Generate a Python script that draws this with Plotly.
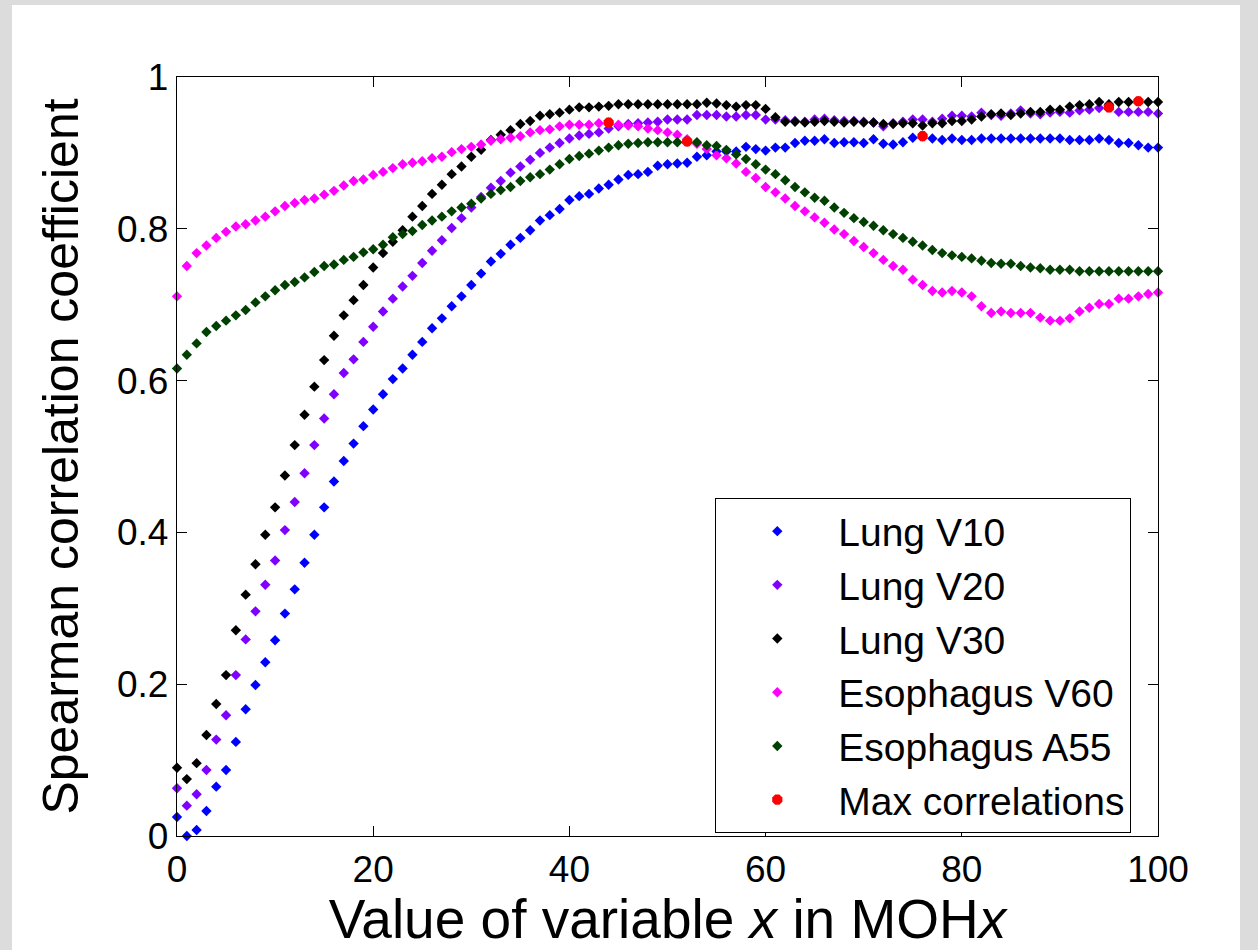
import numpy as np
import plotly.graph_objects as go

x_vals = list(range(0, 101))

lung_v10 = [0.025, 0.000, 0.008, 0.033, 0.065, 0.087, 0.124, 0.167, 0.199, 0.229,
            0.258, 0.293, 0.325, 0.360, 0.397, 0.433, 0.467, 0.494, 0.517, 0.540,
            0.562, 0.582, 0.602, 0.616, 0.634, 0.651, 0.669, 0.682, 0.698, 0.711,
            0.726, 0.741, 0.757, 0.767, 0.779, 0.788, 0.798, 0.811, 0.818, 0.826,
            0.838, 0.843, 0.846, 0.853, 0.858, 0.865, 0.871, 0.872, 0.875, 0.883,
            0.885, 0.886, 0.887, 0.895, 0.897, 0.902, 0.902, 0.902, 0.908, 0.905,
            0.903, 0.907, 0.907, 0.913, 0.916, 0.916, 0.918, 0.913, 0.914, 0.914,
            0.913, 0.918, 0.912, 0.911, 0.914, 0.920, 0.922, 0.919, 0.917, 0.919,
            0.917, 0.917, 0.919, 0.919, 0.919, 0.919, 0.919, 0.919, 0.919, 0.919,
            0.919, 0.917, 0.917, 0.917, 0.919, 0.917, 0.913, 0.913, 0.910, 0.907,
            0.907]

lung_v20 = [0.063, 0.040, 0.055, 0.087, 0.127, 0.159, 0.212, 0.259, 0.296, 0.331,
            0.363, 0.403, 0.440, 0.478, 0.515, 0.550, 0.582, 0.610, 0.628, 0.651,
            0.671, 0.691, 0.708, 0.724, 0.738, 0.755, 0.771, 0.785, 0.801, 0.814,
            0.828, 0.842, 0.854, 0.863, 0.874, 0.882, 0.891, 0.900, 0.907, 0.913,
            0.919, 0.923, 0.925, 0.927, 0.932, 0.935, 0.938, 0.939, 0.940, 0.941,
            0.944, 0.944, 0.944, 0.950, 0.950, 0.950, 0.948, 0.948, 0.950, 0.950,
            0.944, 0.944, 0.943, 0.942, 0.941, 0.944, 0.945, 0.943, 0.942, 0.942,
            0.941, 0.940, 0.935, 0.939, 0.941, 0.944, 0.944, 0.941, 0.945, 0.949,
            0.949, 0.948, 0.953, 0.950, 0.949, 0.952, 0.956, 0.952, 0.951, 0.953,
            0.954, 0.953, 0.956, 0.957, 0.959, 0.960, 0.954, 0.954, 0.954, 0.954,
            0.952]

lung_v30 = [0.090, 0.075, 0.096, 0.133, 0.174, 0.212, 0.271, 0.318, 0.358, 0.397,
            0.433, 0.475, 0.515, 0.555, 0.592, 0.627, 0.659, 0.686, 0.706, 0.726,
            0.749, 0.768, 0.783, 0.798, 0.816, 0.830, 0.846, 0.858, 0.872, 0.882,
            0.895, 0.904, 0.917, 0.924, 0.930, 0.938, 0.942, 0.949, 0.951, 0.953,
            0.957, 0.960, 0.960, 0.961, 0.962, 0.964, 0.964, 0.964, 0.964, 0.964,
            0.964, 0.964, 0.964, 0.964, 0.966, 0.965, 0.963, 0.961, 0.963, 0.963,
            0.958, 0.947, 0.941, 0.941, 0.940, 0.941, 0.942, 0.941, 0.940, 0.941,
            0.940, 0.940, 0.938, 0.938, 0.939, 0.939, 0.936, 0.939, 0.939, 0.942,
            0.942, 0.944, 0.948, 0.951, 0.952, 0.950, 0.952, 0.954, 0.954, 0.957,
            0.957, 0.961, 0.963, 0.964, 0.967, 0.964, 0.967, 0.967, 0.968, 0.967,
            0.967]

esophagus_v60 = [0.711, 0.751, 0.768, 0.778, 0.788, 0.796, 0.803, 0.806, 0.811, 0.816,
                 0.823, 0.830, 0.834, 0.838, 0.840, 0.845, 0.850, 0.857, 0.863, 0.865,
                 0.871, 0.875, 0.880, 0.885, 0.887, 0.889, 0.893, 0.895, 0.901, 0.905,
                 0.908, 0.911, 0.916, 0.918, 0.920, 0.922, 0.927, 0.930, 0.931, 0.935,
                 0.937, 0.937, 0.937, 0.939, 0.940, 0.937, 0.936, 0.935, 0.932, 0.930,
                 0.927, 0.924, 0.918, 0.912, 0.905, 0.897, 0.893, 0.886, 0.875, 0.867,
                 0.855, 0.848, 0.840, 0.830, 0.823, 0.815, 0.808, 0.799, 0.793, 0.784,
                 0.776, 0.768, 0.759, 0.751, 0.746, 0.733, 0.726, 0.718, 0.716, 0.718,
                 0.716, 0.711, 0.698, 0.689, 0.691, 0.689, 0.689, 0.689, 0.683, 0.679,
                 0.679, 0.682, 0.691, 0.696, 0.701, 0.701, 0.708, 0.708, 0.711, 0.714,
                 0.716]

esophagus_a55 = [0.616, 0.634, 0.649, 0.664, 0.672, 0.679, 0.686, 0.693, 0.703, 0.711,
                 0.719, 0.726, 0.730, 0.736, 0.743, 0.751, 0.753, 0.759, 0.763, 0.769,
                 0.773, 0.779, 0.789, 0.793, 0.797, 0.805, 0.811, 0.816, 0.823, 0.828,
                 0.833, 0.840, 0.846, 0.851, 0.855, 0.863, 0.868, 0.872, 0.878, 0.885,
                 0.892, 0.896, 0.899, 0.903, 0.907, 0.910, 0.912, 0.913, 0.914, 0.914,
                 0.914, 0.914, 0.915, 0.914, 0.910, 0.909, 0.904, 0.898, 0.892, 0.885,
                 0.878, 0.872, 0.864, 0.855, 0.848, 0.841, 0.837, 0.828, 0.821, 0.814,
                 0.809, 0.804, 0.798, 0.793, 0.788, 0.783, 0.778, 0.772, 0.768, 0.765,
                 0.763, 0.761, 0.758, 0.755, 0.754, 0.754, 0.751, 0.749, 0.748, 0.746,
                 0.746, 0.746, 0.744, 0.744, 0.744, 0.744, 0.744, 0.744, 0.744, 0.744,
                 0.744]

series_names = ["Lung V10", "Lung V20", "Lung V30", "Esophagus V60", "Esophagus A55"]
series_values = [lung_v10, lung_v20, lung_v30, esophagus_v60, esophagus_a55]
series_colors = ["#0000ff", "#8000ff", "#000000", "#ff00ff", "#004000"]

x_tick_vals = [0, 20, 40, 60, 80, 100]
y_tick_vals = [0, 0.2, 0.4, 0.6, 0.8, 1]
y_tick_text = ["0", "0.2", "0.4", "0.6", "0.8", "1"]

FONT = "Liberation Sans, Arial, Helvetica, sans-serif"

fig = go.Figure()
for name, vals, col in zip(series_names, series_values, series_colors):
    fig.add_trace(go.Scatter(
        x=x_vals, y=vals, mode="markers", name=name,
        marker=dict(symbol="diamond", size=8, color=col, line=dict(width=0)),
        cliponaxis=False,
    ))

max_x = []
max_y = []
for vals in series_values:
    i = int(np.argmax(vals))
    max_x.append(x_vals[i])
    max_y.append(vals[i])

fig.add_trace(go.Scatter(
    x=max_x, y=max_y, mode="markers", name="Max correlations",
    marker=dict(symbol="octagon", size=11, color="#ff0000", line=dict(width=0)),
    cliponaxis=False,
))

W, H = 1258, 950
L, R, T, B = 177, 100, 77, 114
pw, ph = W - L - R, H - T - B

def px2x(px):
    return (px - L) / pw

def py2y(py):
    return (H - B - py) / ph

fig.add_shape(type="rect", xref="paper", yref="paper",
              x0=px2x(12), x1=px2x(1240), y0=py2y(960), y1=py2y(5),
              fillcolor="white", line=dict(width=0), layer="below")

axis_common = dict(
    showline=True, linecolor="black", linewidth=1.3, mirror="ticks",
    ticks="inside", ticklen=10, tickwidth=1.3, tickcolor="black",
    showgrid=False, zeroline=False,
    tickfont=dict(family=FONT, size=37, color="black"),
)

fig.update_layout(
    width=W, height=H,
    margin=dict(l=L, r=R, t=T, b=B, pad=0),
    paper_bgcolor="#dcdcdc",
    plot_bgcolor="white",
    font=dict(family=FONT, color="black"),
    showlegend=True,
    legend=dict(
        x=px2x(715), y=py2y(498), xanchor="left", yanchor="top",
        bgcolor="white", bordercolor="black", borderwidth=1.3,
        font=dict(family=FONT, size=39, color="black"),
        itemwidth=112, tracegroupgap=0,
    ),
    xaxis=dict(
        range=[0, 100], tickvals=x_tick_vals,
        title=dict(text="Value of variable <i>x</i> in MOH<i>x</i>",
                   font=dict(family=FONT, size=55, color="black"), standoff=6),
        **axis_common,
    ),
    yaxis=dict(
        range=[0, 1], tickvals=y_tick_vals, ticktext=y_tick_text,
        title=dict(text="Spearman correlation coefficient",
                   font=dict(family=FONT, size=50, color="black"), standoff=22),
        **axis_common,
    ),
)

fig.write_html("out.html")
